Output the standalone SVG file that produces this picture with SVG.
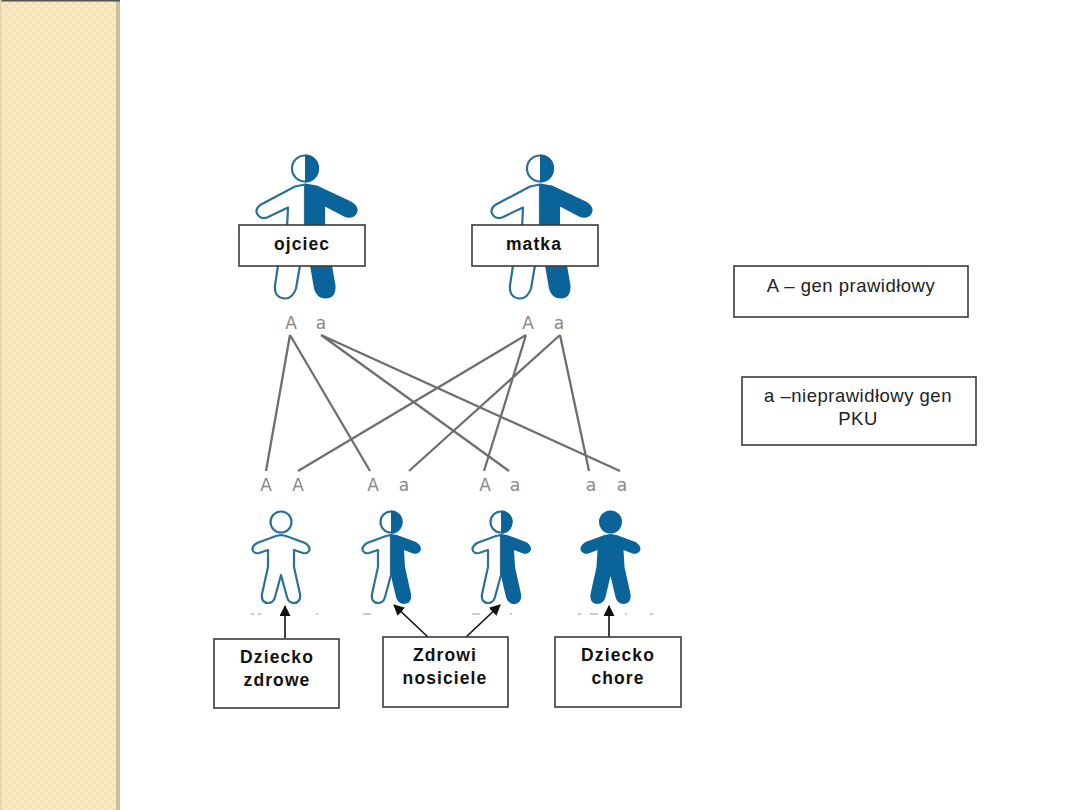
<svg xmlns="http://www.w3.org/2000/svg" width="1080" height="810" viewBox="0 0 1080 810">
<style>
.box{fill:#fff;stroke:#3a3a3a;stroke-width:1.6}
.b{font-family:"Liberation Sans",Arial,sans-serif;font-weight:bold;font-size:17.5px;fill:#111;text-anchor:middle;letter-spacing:1.1px}
.r{font-family:"Liberation Sans",Arial,sans-serif;font-size:18.5px;fill:#222;text-anchor:middle;letter-spacing:.5px}
.g{font-family:"DejaVu Sans",sans-serif;font-size:17px;fill:#888;text-anchor:middle}
.link{stroke:#6f6f6f;stroke-width:2.3;fill:none}
.arrow{stroke:#111;stroke-width:1.6;fill:none;marker-end:url(#ah)}
.o{fill:#fff;stroke:#2a7099;stroke-width:2.2;stroke-linejoin:round}
.f{fill:#0a6399}
.m{stroke:#bbb;stroke-width:1.5;fill:none}
</style>
<defs>
<pattern id="chk" width="8" height="8" patternUnits="userSpaceOnUse">
<rect width="8" height="8" fill="#f8eac5"/>
<rect width="4" height="4" fill="#f4e3b8"/>
<rect x="4" y="4" width="4" height="4" fill="#f4e3b8"/>
</pattern>
<marker id="ah" markerUnits="userSpaceOnUse" markerWidth="12" markerHeight="12" refX="10" refY="5.5" orient="auto">
<path d="M0 0L11 5.5L0 11Z" fill="#111"/>
</marker>
<path id="bigL" d="M0 16L-10 18L-44 36Q-50 40-48 45Q-45 51-38 49L-17 39L-18 60L-27 97L-30 117C-31 126-26 130-20 130C-14 130-11 126-9 120L-5 97L0 82Z"/>
<path id="bigR" d="M0 15L12 17L46 33C53 37 54 42 51 46C48 50 43 50 39 48L20 38L20 60L27 97L30.500 117C31 126 27 130 21 130C15 130 11 127 9 120L5 97L0 82Z"/>
<path id="smL" d="M0 13L-5 14L-24 21Q-30 25-28 29Q-26 32-22 31L-13 28L-13 45L-19 72C-20 78-17 81-13 81C-9 81-7 79-6 75L0 53Z"/>
<path id="smR" d="M0 12L6 13L25 20C30 23 31 27 29 29.500C27 32 24 32 22 31.500L13 28L14 45L20 72C21 78 18 82 13 82C9 82 6 79 5 75L0 54Z"/>
<path id="smFull" d="M0 12L6 13L25 20C30 23 31 27 29 29.500C27 32 24 32 22 31.500L13 28L14 45L20 72C21 78 18 82 13 82C9 82 6 79 5 75L0 54L-5 75C-6 79-9 82-13 82C-18 82-21 78-20 72L-14 45L-13 28L-22 31.500C-24 32-27 32-29 29.500C-31 27-30 23-25 20L-6 13Z"/>
<path id="smOutline" d="M0 13L5 14L24 21Q30 25 28 29Q26 32 22 31L13 28L13 45L19 72C20 78 17 81 13 81C9 81 7 79 6 75L0 53L-6 75C-7 79-9 81-13 81C-17 81-20 78-19 72L-13 45L-13 28L-22 31Q-26 32-28 29Q-30 25-24 21L-5 14Z"/>
<path id="bigHeadR" d="M0-14A14 14 0 0 1 0 14Z"/>
<path id="smHeadR" d="M0-11.500A11.500 11.500 0 0 1 0 11.500Z"/>
</defs>
<rect width="1080" height="810" fill="#fff"/>
<g id="sidebar">
<rect width="116" height="810" fill="url(#chk)"/>
<rect x="116" width="4" height="810" fill="#cdc09c"/>
<rect width="120" height="1.5" fill="#555"/>
<rect width="1.5" height="810" fill="#e3d3a8"/>
</g>
<g id="connectors">
<path class="link" d="M290 335L266 471M290 335L370 471M321 335L509 471M321 335L620 471M526 335L298 471M526 335L484 471M560 335L409 471M560 335L589 471"/>
<path class="arrow" d="M285 638V606"/>
<path class="arrow" d="M429 638L394 605"/>
<path class="arrow" d="M465 638L500 605"/>
<path class="arrow" d="M609 637V606"/>
</g>
<g id="father" transform="translate(305 168.5)">
<use href="#bigL" class="o"/><use href="#bigR" class="f"/>
<circle r="13" class="o"/><use href="#bigHeadR" class="f"/>
</g>
<g id="mother" transform="translate(540 168.5)">
<use href="#bigL" class="o"/><use href="#bigR" class="f"/>
<circle r="13" class="o"/><use href="#bigHeadR" class="f"/>
</g>
<g id="child-healthy" transform="translate(281 522)">
<use href="#smOutline" class="o"/>
<circle r="10.500" class="o"/>
</g>
<g id="child-carrier-1" transform="translate(391 522)">
<use href="#smL" class="o"/><use href="#smR" class="f"/>
<circle r="10.500" class="o"/><use href="#smHeadR" class="f"/>
</g>
<g id="child-carrier-2" transform="translate(501 522)">
<use href="#smL" class="o"/><use href="#smR" class="f"/>
<circle r="10.500" class="o"/><use href="#smHeadR" class="f"/>
</g>
<g id="child-affected" transform="translate(610.5 522)">
<use href="#smFull" class="f"/>
<circle r="11.500" class="f"/>
</g>
<g id="alleles">
<text class="g" x="291" y="329">A</text><text class="g" x="321" y="329">a</text>
<text class="g" x="528" y="329">A</text><text class="g" x="559" y="329">a</text>
<text class="g" x="266" y="491">A</text><text class="g" x="298" y="491">A</text>
<text class="g" x="373" y="491">A</text><text class="g" x="404" y="491">a</text>
<text class="g" x="485" y="491">A</text><text class="g" x="515" y="491">a</text>
<text class="g" x="591" y="491">a</text><text class="g" x="622" y="491">a</text>
</g>
<path id="cropped-marks" class="m" d="M251 614h3M258 614h3M316 614h2M363 614h8M472 614h8M510 614h2M578 614h3M590 614h8M625 614h2M650 614h3"/>
<g id="label-ojciec"><rect class="box" x="239" y="225" width="126" height="41"/><text class="b" x="302" y="250">ojciec</text></g>
<g id="label-matka"><rect class="box" x="472" y="225" width="126" height="41"/><text class="b" x="534" y="250">matka</text></g>
<g id="legend-A"><rect class="box" x="734" y="266" width="234" height="51"/><text class="r" x="851" y="292">A – gen prawidłowy</text></g>
<g id="legend-a"><rect class="box" x="742" y="377" width="234" height="68"/><text class="r" x="858" y="402">a –nieprawidłowy gen</text><text class="r" x="858" y="425">PKU</text></g>
<g id="label-zdrowe"><rect class="box" x="214" y="639" width="125" height="69"/><text class="b" x="277" y="663">Dziecko</text><text class="b" x="277" y="686">zdrowe</text></g>
<g id="label-nosiciele"><rect class="box" x="383" y="637" width="125" height="70"/><text class="b" x="445" y="661">Zdrowi</text><text class="b" x="445" y="684">nosiciele</text></g>
<g id="label-chore"><rect class="box" x="555" y="637" width="126" height="70"/><text class="b" x="618" y="661">Dziecko</text><text class="b" x="618" y="684">chore</text></g>
</svg>
